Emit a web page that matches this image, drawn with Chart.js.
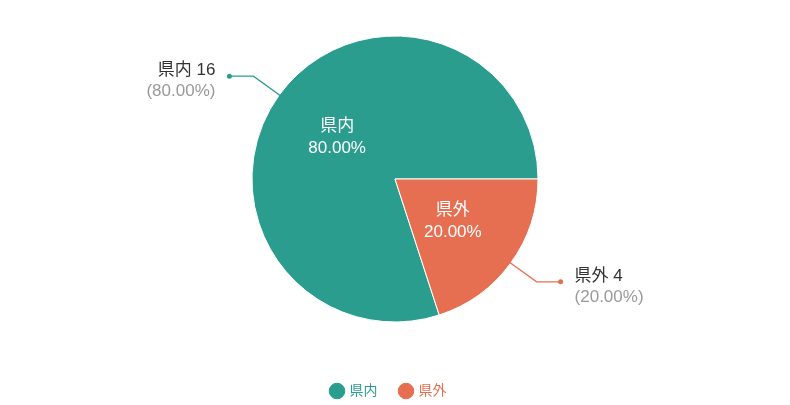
<!DOCTYPE html>
<html lang="ja">
<head>
<meta charset="utf-8">
<script src="https://cdn.jsdelivr.net/npm/chart.js@4"></script>
<style>
  html, body { margin: 0; padding: 0; background: #fff; }
  #wrap { width: 790px; height: 405px; position: relative; }
</style>
</head>
<body>
<div id="wrap"><canvas id="chart"></canvas></div>
<script>
const labels = ['県内', '県外'];
const counts = [16, 4];
const colors = ['#2a9d8f', '#e76f51'];

const FONT = '"Liberation Sans", "Noto Sans CJK JP", sans-serif';
const total = counts.reduce((a, b) => a + b, 0);
const pct = (v) => (v / total * 100).toFixed(2) + '%';

// 内側ラベルと外側の引き出し線ラベル
const sliceLabels = {
  id: 'sliceLabels',
  afterDatasetsDraw(chart) {
    const ctx = chart.ctx;
    const meta = chart.getDatasetMeta(0);
    meta.data.forEach((arc, i) => {
      const { x, y, outerRadius, startAngle, endAngle } =
        arc.getProps(['x', 'y', 'outerRadius', 'startAngle', 'endAngle'], true);
      const mid = (startAngle + endAngle) / 2;
      const cos = Math.cos(mid), sin = Math.sin(mid);

      ctx.save();
      ctx.font = '17px ' + FONT;
      ctx.textBaseline = 'middle';

      // inside
      ctx.fillStyle = '#fff';
      ctx.textAlign = 'center';
      const ix = x + cos * outerRadius * 0.5;
      const iy = y + sin * outerRadius * 0.5;
      ctx.fillText(labels[i], ix, iy - 11);
      ctx.fillText(pct(counts[i]), ix, iy + 11);

      // outside
      const bx = x + cos * (outerRadius + 32);
      const by = y + sin * (outerRadius + 32);
      const right = cos >= 0;
      const ex = bx + (right ? 24 : -24);
      ctx.strokeStyle = colors[i];
      ctx.lineWidth = 1.3;
      ctx.beginPath();
      ctx.moveTo(x + cos * (outerRadius - 10), y + sin * (outerRadius - 10));
      ctx.lineTo(bx, by);
      ctx.lineTo(ex, by);
      ctx.stroke();
      ctx.fillStyle = colors[i];
      ctx.beginPath();
      ctx.arc(ex, by, 2.5, 0, Math.PI * 2);
      ctx.fill();

      ctx.textAlign = right ? 'left' : 'right';
      const tx = ex + (right ? 14 : -14);
      ctx.fillStyle = '#333';
      ctx.fillText(labels[i] + ' ' + counts[i], tx, by - 6);
      ctx.fillStyle = '#999';
      ctx.fillText('(' + pct(counts[i]) + ')', tx, by + 15);
      ctx.restore();
    });
  }
};

// 凡例を少しずらす
const legendShift = {
  id: 'legendShift',
  beforeDraw(chart) { chart.ctx.save(); chart.ctx.translate(-6, 3); },
  beforeDatasetsDraw(chart) { chart.ctx.restore(); }
};

new Chart(document.getElementById('chart'), {
  type: 'pie',
  data: {
    labels: labels,
    datasets: [{
      data: counts,
      backgroundColor: colors,
      borderColor: '#fff',
      borderWidth: 1,
      radius: 143
    }]
  },
  options: {
    responsive: true,
    maintainAspectRatio: false,
    animation: false,
    rotation: 162,
    layout: { padding: 0 },
    plugins: {
      tooltip: { enabled: false },
      legend: {
        position: 'bottom',
        labels: {
          usePointStyle: true,
          pointStyle: 'circle',
          boxWidth: 11,
          boxHeight: 11,
          padding: 23,
          font: { size: 14, family: FONT },
          generateLabels(chart) {
            const items = Chart.overrides.doughnut.plugins.legend.labels.generateLabels(chart);
            items.forEach((it, i) => {
              it.fontColor = colors[i];
              it.strokeStyle = colors[i];
            });
            return items;
          }
        }
      }
    }
  },
  plugins: [sliceLabels, legendShift]
});
</script>
</body>
</html>
